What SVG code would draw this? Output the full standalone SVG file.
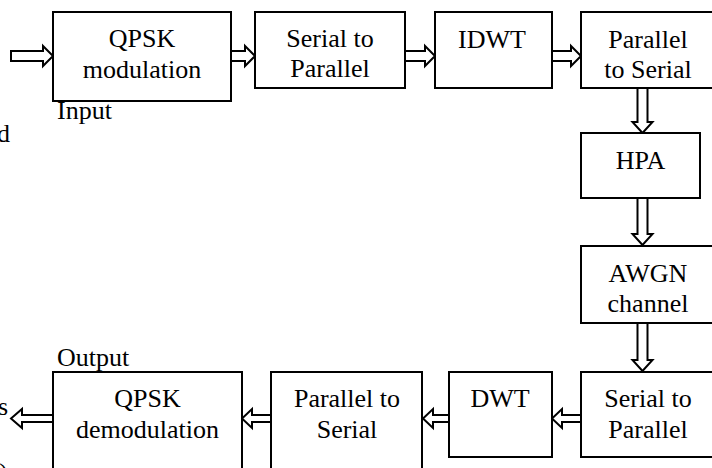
<svg xmlns="http://www.w3.org/2000/svg" width="712" height="468" viewBox="0 0 712 468">
  <style>
    .box { fill: #ffffff; stroke: #000000; stroke-width: 2; }
    .arrow { fill: #ffffff; stroke: #000000; stroke-width: 2; stroke-linejoin: miter; }
    text { font-family: "Liberation Serif", "Times New Roman", serif; font-size: 26px; fill: #000000; }
    .c { text-anchor: middle; }
    .e { text-anchor: end; }
  </style>
  <rect x="0" y="0" width="712" height="468" fill="#ffffff"/>

  <!-- connectors: hollow block arrows -->
  <g id="connectors">
    <!-- transmitter chain, left to right -->
    <polygon class="arrow" points="11,51 43,51 43,46 53,56 43,66 43,61 11,61"/>
    <polygon class="arrow" points="231,51 245,51 245,46 255,56 245,66 245,61 231,61"/>
    <polygon class="arrow" points="405,51 425,51 425,46 435,56 425,66 425,61 405,61"/>
    <polygon class="arrow" points="552,51 571,51 571,46 581,56 571,66 571,61 552,61"/>
    <!-- right column, top to bottom -->
    <polygon class="arrow" points="637.5,88 637.5,122 632.5,122 642.5,133 652.5,122 647.5,122 647.5,88"/>
    <polygon class="arrow" points="637.5,198 637.5,234 632.5,234 642.5,245 652.5,234 647.5,234 647.5,198"/>
    <polygon class="arrow" points="637.5,323 637.5,360 632.5,360 642.5,371 652.5,360 647.5,360 647.5,323"/>
    <!-- receiver chain, right to left -->
    <polygon class="arrow" points="581,415 562,415 562,409 552,418.5 562,428 562,422 581,422"/>
    <polygon class="arrow" points="449,415 433,415 433,409 423,418.5 433,428 433,422 449,422"/>
    <polygon class="arrow" points="271,415 252,415 252,409 242,418.5 252,428 252,422 271,422"/>
    <polygon class="arrow" points="53,415 22,415 22,409 11,418.5 22,428 22,422 53,422"/>
  </g>

  <g id="qpsk-mod">
    <rect class="box" x="53" y="12" width="178" height="89"/>
    <text class="c" x="142" y="47">QPSK</text>
    <text class="c" x="142" y="78">modulation</text>
  </g>
  <g id="serial-to-parallel-tx">
    <rect class="box" x="255" y="12" width="150" height="76"/>
    <text class="c" x="330" y="47">Serial to</text>
    <text class="c" x="330" y="77">Parallel</text>
  </g>
  <g id="idwt">
    <rect class="box" x="435" y="12" width="117" height="76"/>
    <text class="c" x="492" y="48">IDWT</text>
  </g>
  <g id="parallel-to-serial-tx">
    <rect class="box" x="581" y="12" width="134" height="76"/>
    <text class="c" x="648" y="48">Parallel</text>
    <text class="c" x="648" y="78">to Serial</text>
  </g>
  <g id="hpa">
    <rect class="box" x="581" y="133" width="119" height="65"/>
    <text class="c" x="640.5" y="169">HPA</text>
  </g>
  <g id="awgn">
    <rect class="box" x="581" y="246" width="134" height="77"/>
    <text class="c" x="648" y="282">AWGN</text>
    <text class="c" x="648" y="312">channel</text>
  </g>
  <g id="serial-to-parallel-rx">
    <rect class="box" x="581" y="372" width="134" height="85"/>
    <text class="c" x="648" y="407">Serial to</text>
    <text class="c" x="648" y="438">Parallel</text>
  </g>
  <g id="dwt">
    <rect class="box" x="449" y="372" width="103" height="85"/>
    <text class="c" x="500" y="407">DWT</text>
  </g>
  <g id="parallel-to-serial-rx">
    <rect class="box" x="271" y="372" width="151" height="110"/>
    <text class="c" x="347" y="407">Parallel to</text>
    <text class="c" x="347" y="438">Serial</text>
  </g>
  <g id="qpsk-demod">
    <rect class="box" x="53" y="372" width="189" height="110"/>
    <text class="c" x="147.5" y="407">QPSK</text>
    <text class="c" x="147.5" y="438">demodulation</text>
  </g>

  <!-- port labels and clipped side text -->
  <g id="labels">
    <text x="57" y="119">Input</text>
    <text x="57" y="366">Output</text>
    <text class="e" x="10" y="142">d</text>
    <text class="e" x="8" y="415">s</text>
    <text class="e" x="8" y="481">)</text>
  </g>
</svg>
